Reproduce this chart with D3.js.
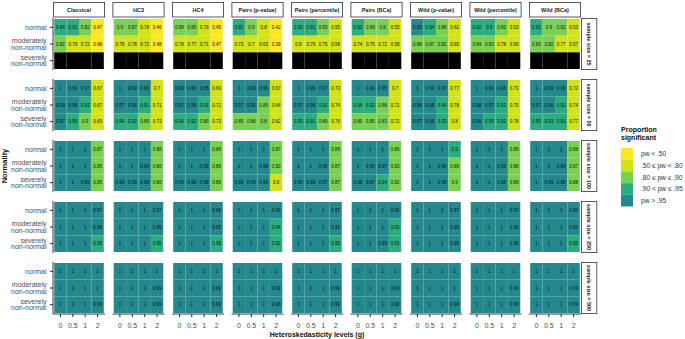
<!DOCTYPE html>
<html>
<head>
<meta charset="utf-8">
<script src="https://cdn.jsdelivr.net/npm/d3@7"></script>
<style>
  body { margin: 0; background: #fff; }
  svg { display: block; font-family: "Liberation Sans", Arial, Helvetica, sans-serif; }
</style>
</head>
<body>
<svg id="chart" width="685" height="339"></svg>
<script>
// Facet columns (test method) and rows (sample size)
const methods = ["Classical", "HC3", "HC4", "Pairs (p-value)", "Pairs (percentile)",
                 "Pairs (BCa)", "Wild (p-value)", "Wild (percentile)", "Wild (BCa)"];
const sampleSizes = [25, 50, 100, 250, 500];
const hetLevels = ["0", "0.5", "1", "2"];
const normality = ["normal", "moderately non-normal", "severely non-normal"];

// Power bands used for the fill legend
const bandLabels = ["pw < .50", ".50 \u2264 pw < .80", ".80 \u2264 pw \u2264 .90", ".90 < pw \u2264 .95", "pw > .95"];
const bandColors = ["#FDE725", "#D4E21A", "#7AD151", "#2AAE80", "#23898E"];

// Proportion significant: [method][normality][heteroskedasticity level]; null = not run
const power25 = [
  [[0.94, 0.91, 0.82, 0.47], [0.82, 0.79, 0.72, 0.48], null],
  [[0.9, 0.87, 0.78, 0.46], [0.79, 0.78, 0.72, 0.48], null],
  [[0.88, 0.85, 0.76, 0.45], [0.78, 0.77, 0.71, 0.47], null],
  [[0.92, 0.9, 0.797, 0.42], [0.73, 0.7, 0.63, 0.39], null],
  [[0.93, 0.91, 0.83, 0.55], [0.797, 0.79, 0.75, 0.58], null],
  [[0.93, 0.89, 0.8, 0.55], [0.74, 0.75, 0.72, 0.58], null],
  [[0.953, 0.94, 0.88, 0.62], [0.88, 0.87, 0.82, 0.65], null],
  [[0.92, 0.902, 0.82, 0.53], [0.84, 0.83, 0.78, 0.56], null],
  [[0.92, 0.9, 0.82, 0.53], [0.83, 0.82, 0.77, 0.57], null]
];
const power50 = [
  [[1, 0.99, 0.97, 0.67], [0.99, 0.98, 0.93, 0.67], [0.97, 0.95, 0.9, 0.69]],
  [[1, 0.99, 0.96, 0.7], [0.97, 0.96, 0.91, 0.71], [0.94, 0.92, 0.89, 0.73]],
  [[0.99, 0.99, 0.953, 0.69], [0.97, 0.96, 0.91, 0.71], [0.94, 0.92, 0.89, 0.73]],
  [[1, 0.99, 0.96, 0.67], [0.97, 0.953, 0.89, 0.64], [0.89, 0.86, 0.8, 0.62]],
  [[1, 0.99, 0.97, 0.73], [0.97, 0.96, 0.92, 0.74], [0.93, 0.91, 0.89, 0.76]],
  [[1, 0.99, 0.953, 0.7], [0.94, 0.92, 0.88, 0.71], [0.85, 0.85, 0.83, 0.72]],
  [[1, 0.99, 0.97, 0.77], [0.98, 0.98, 0.94, 0.78], [0.97, 0.96, 0.93, 0.797]],
  [[1, 0.99, 0.96, 0.73], [0.98, 0.97, 0.93, 0.75], [0.96, 0.95, 0.92, 0.78]],
  [[1, 0.99, 0.96, 0.72], [0.97, 0.96, 0.92, 0.74], [0.95, 0.93, 0.91, 0.77]]
];
const power100 = [
  [[1, 1, 1, 0.87], [1, 1, 1, 0.85], [1, 1, 0.99, 0.85]],
  [[1, 1, 1, 0.88], [1, 1, 0.99, 0.86], [0.99, 0.99, 0.98, 0.86]],
  [[1, 1, 1, 0.88], [1, 1, 0.99, 0.86], [0.99, 0.99, 0.98, 0.86]],
  [[1, 1, 1, 0.87], [1, 1, 0.98, 0.82], [0.99, 0.99, 0.98, 0.797]],
  [[1, 1, 1, 0.89], [1, 1, 0.99, 0.87], [0.99, 0.99, 0.97, 0.87]],
  [[1, 1, 1, 0.86], [1, 0.99, 0.97, 0.83], [0.98, 0.97, 0.94, 0.82]],
  [[1, 1, 1, 0.904], [1, 1, 0.99, 0.89], [1, 1, 0.98, 0.9]],
  [[1, 1, 1, 0.89], [1, 1, 0.99, 0.88], [1, 1, 0.98, 0.89]],
  [[1, 1, 1, 0.88], [1, 1, 0.99, 0.87], [1, 0.99, 0.98, 0.88]]
];
const power250 = [
  [[1, 1, 1, 0.97], [1, 1, 1, 0.96], [1, 1, 1, 0.95]],
  [[1, 1, 1, 0.97], [1, 1, 1, 0.96], [1, 1, 1, 0.95]],
  [[1, 1, 1, 0.96], [1, 1, 1, 0.953], [1, 1, 1, 0.95]],
  [[1, 1, 1, 0.96], [1, 1, 1, 0.94], [1, 1, 1, 0.92]],
  [[1, 1, 1, 0.97], [1, 1, 1, 0.953], [1, 1, 1, 0.95]],
  [[1, 1, 1, 0.96], [1, 1, 1, 0.93], [1, 1, 0.99, 0.91]],
  [[1, 1, 1, 0.97], [1, 1, 1, 0.96], [1, 1, 1, 0.96]],
  [[1, 1, 1, 0.97], [1, 1, 1, 0.96], [1, 1, 1, 0.96]],
  [[1, 1, 1, 0.96], [1, 1, 1, 0.96], [1, 1, 1, 0.95]]
];
const power500 = [
  [[1, 1, 1, 1], [1, 1, 1, 1], [1, 1, 1, 0.99]],
  [[1, 1, 1, 1], [1, 1, 1, 0.99], [1, 1, 1, 0.99]],
  [[1, 1, 1, 1], [1, 1, 1, 0.99], [1, 1, 1, 0.99]],
  [[1, 1, 1, 1], [1, 1, 1, 0.99], [1, 1, 1, 0.98]],
  [[1, 1, 1, 1], [1, 1, 1, 0.99], [1, 1, 1, 0.99]],
  [[1, 1, 1, 1], [1, 1, 1, 0.99], [1, 1, 1, 0.98]],
  [[1, 1, 1, 1], [1, 1, 1, 1], [1, 1, 1, 0.99]],
  [[1, 1, 1, 1], [1, 1, 1, 0.99], [1, 1, 1, 0.99]],
  [[1, 1, 1, 1], [1, 1, 1, 0.99], [1, 1, 1, 0.99]]
];
const powerBySize = [power25, power50, power100, power250, power500];

// Band index following the legend's boundaries
function band(v) {
  if (v < 0.5) return 0;
  if (v < 0.8) return 1;
  if (v <= 0.9) return 2;
  if (v <= 0.95) return 3;
  return 4;
}
const fill = d3.scaleOrdinal().domain(d3.range(bandLabels.length)).range(bandColors);
const fmt = v => String(+v.toFixed(2));

// Layout
const marginLeft = 53, marginTop = 18;
const panelW = 52, panelH = 52, colStep = 59.5, rowStep = 61;
const axisColor = "#222", textGrey = "#4d4d4d";

const svg = d3.select("#chart");
const x = d3.scaleBand().domain(hetLevels).range([1.2, panelW - 1.2]);
const y = d3.scaleBand().domain(normality).range([1, panelH - 1]);

const cells = [];
sampleSizes.forEach((n, r) => {
  methods.forEach((m, c) => {
    normality.forEach((nl, j) => {
      hetLevels.forEach((h, k) => {
        const rowVals = powerBySize[r][c][j];
        cells.push({ r, c, nl, h, value: rowVals ? rowVals[k] : null });
      });
    });
  });
});

const panels = svg.append("g").selectAll("g.panel")
  .data(d3.cross(d3.range(sampleSizes.length), d3.range(methods.length)))
  .join("g")
  .attr("class", "panel")
  .attr("transform", ([r, c]) => `translate(${marginLeft + c * colStep},${marginTop + r * rowStep})`);

panels.each(function ([r, c]) {
  const g = d3.select(this);
  const data = cells.filter(d => d.r === r && d.c === c);
  g.selectAll("rect.tile").data(data).join("rect")
    .attr("class", "tile")
    .attr("x", d => x(d.h))
    .attr("y", d => y(d.nl))
    .attr("width", x.bandwidth())
    .attr("height", y.bandwidth())
    .attr("fill", d => d.value == null ? "#000" : fill(band(d.value)));
  g.selectAll("text.val").data(data.filter(d => d.value != null)).join("text")
    .attr("class", "val")
    .attr("x", d => x(d.h) + x.bandwidth() / 2)
    .attr("y", d => y(d.nl) + y.bandwidth() / 2)
    .attr("dy", "0.35em")
    .attr("text-anchor", "middle")
    .attr("font-size", 4.5)
    .attr("fill", "#111")
    .text(d => fmt(d.value));

  // left axis on first column
  if (c === 0) {
    const ax = g.append("g").call(d3.axisLeft(y).tickSize(3).tickPadding(3.5));
    ax.select(".domain").remove();
    ax.selectAll(".tick line").attr("stroke", axisColor);
    ax.selectAll(".tick text").attr("font-size", 7).attr("fill", textGrey).attr("font-family", null)
      .each(function (d) {
        const parts = d === "normal" ? ["normal"] : [d.split(" ")[0], d.split(" ").slice(1).join(" ")];
        const t = d3.select(this).text(null).attr("dy", null);
        const lh = 6.4;
        parts.forEach((p, i) => {
          t.append("tspan").attr("x", -6.5)
            .attr("y", (i - (parts.length - 1) / 2) * lh)
            .attr("dy", "0.35em").text(p);
        });
      });
    g.append("line").attr("x1", 0).attr("x2", 0).attr("y1", 0).attr("y2", panelH)
      .attr("stroke", axisColor).attr("stroke-width", 0.9);
  }
  // bottom axis on last row
  if (r === sampleSizes.length - 1) {
    const ax = g.append("g").attr("transform", `translate(0,${panelH})`)
      .call(d3.axisBottom(x).tickSize(3).tickPadding(5.7));
    ax.select(".domain").remove();
    ax.selectAll(".tick line").attr("stroke", axisColor);
    ax.selectAll(".tick text").attr("font-size", 7).attr("fill", textGrey).attr("font-family", null);
    g.append("line").attr("x1", 0).attr("x2", panelW).attr("y1", panelH).attr("y2", panelH)
      .attr("stroke", axisColor).attr("stroke-width", 0.9);
  }
  // method strips on top row
  if (r === 0) {
    g.append("rect").attr("x", 0.4).attr("y", -15.6).attr("width", panelW - 0.8).attr("height", 14.6)
      .attr("fill", "#fff").attr("stroke", "#333").attr("stroke-width", 0.8);
    g.append("text").attr("x", panelW / 2).attr("y", -8.3).attr("dy", "0.35em")
      .attr("text-anchor", "middle").attr("font-size", 5.5).attr("font-weight", "bold")
      .attr("fill", "#1a1a1a").text(methods[c]);
  }
  // sample size strips on right
  if (c === methods.length - 1) {
    g.append("rect").attr("x", panelW + 0.4).attr("y", 0.4).attr("width", 15.4).attr("height", panelH - 0.8)
      .attr("fill", "#fff").attr("stroke", "#333").attr("stroke-width", 0.8);
    g.append("text").attr("transform", `translate(${panelW + 8.1},${panelH / 2}) rotate(90)`)
      .attr("dy", "0.35em").attr("text-anchor", "middle").attr("font-size", 5.5)
      .attr("font-weight", "bold").attr("fill", "#1a1a1a").text(`sample size = ${sampleSizes[r]}`);
  }
});

// Axis titles
svg.append("text").attr("transform", `translate(7,${marginTop + (rowStep * 4 + panelH) / 2}) rotate(-90)`)
  .attr("text-anchor", "middle").attr("font-size", 7.5).attr("font-weight", "bold").attr("fill", "#111")
  .text("Normality");
svg.append("text").attr("x", marginLeft + (colStep * 8 + panelW) / 2).attr("y", 336.5)
  .attr("text-anchor", "middle").attr("font-size", 7).attr("font-weight", "bold").attr("fill", "#111")
  .text("Heteroskedasticity levels (g)");

// Legend
const lg = svg.append("g").attr("transform", "translate(621,0)");
lg.append("text").attr("x", 0).attr("y", 132).attr("font-size", 7).attr("font-weight", "bold")
  .attr("fill", "#111").text("Proportion");
lg.append("text").attr("x", 0).attr("y", 140).attr("font-size", 7).attr("font-weight", "bold")
  .attr("fill", "#111").text("significant");
const sw = 11.7;
lg.selectAll("rect.key").data(d3.range(bandLabels.length)).join("rect")
  .attr("class", "key").attr("x", 0).attr("y", i => 148 + i * sw)
  .attr("width", 12).attr("height", sw).attr("fill", i => fill(i));
lg.selectAll("text.key").data(d3.range(bandLabels.length)).join("text")
  .attr("class", "key").attr("x", 20).attr("y", i => 148 + i * sw + sw / 2).attr("dy", "0.35em")
  .attr("font-size", 6.6).attr("fill", "#333").text(i => bandLabels[i]);
</script>
</body>
</html>
